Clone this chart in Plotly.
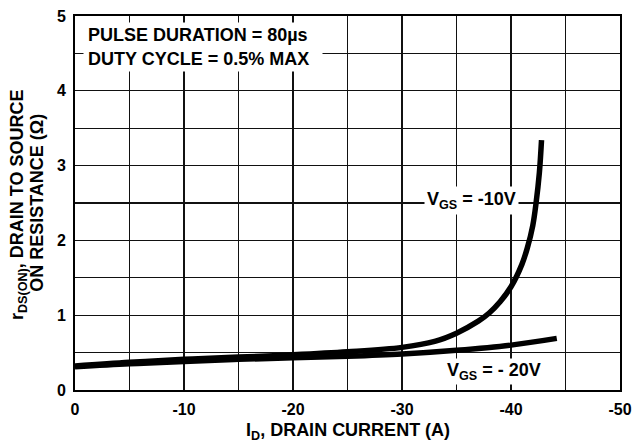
import plotly.graph_objects as go

# -- data --
id_10 = [0, -5, -10, -15, -20, -25, -30, -33, -35, -37, -38, -39, -40, -41, -41.5, -42, -42.3, -42.6, -42.8]
r_10 = [0.32, 0.37, 0.41, 0.44, 0.47, 0.51, 0.57, 0.65, 0.76, 0.92, 1.03, 1.18, 1.38, 1.68, 1.9, 2.2, 2.5, 2.9, 3.34]

id_20 = [0, -5, -10, -15, -20, -25, -30, -35, -40, -44.2]
r_20 = [0.31, 0.35, 0.38, 0.41, 0.43, 0.45, 0.48, 0.53, 0.60, 0.69]

x_ticks = [0, -10, -20, -30, -40, -50]
x_tick_text = ["0", "-10", "-20", "-30", "-40", "-50"]
y_ticks = [0, 1, 2, 3, 4, 5]
y_tick_text = ["0", "1", "2", "3", "4", "5"]

FONT = "Liberation Sans, Arial, sans-serif"
BOLD = dict(family=FONT, weight="bold", color="black")

fig = go.Figure()
fig.add_trace(go.Scatter(x=id_10, y=r_10, mode="lines",
                         line=dict(color="black", width=5.5, shape="spline"),
                         showlegend=False, hoverinfo="skip"))
fig.add_trace(go.Scatter(x=id_20, y=r_20, mode="lines",
                         line=dict(color="black", width=5.5, shape="spline"),
                         showlegend=False, hoverinfo="skip"))

axis_common = dict(
    showgrid=True, gridcolor="#111111", gridwidth=1.3,
    showline=True, linecolor="black", linewidth=2, mirror=True,
    ticks="", zeroline=False, automargin=False,
    ticklabeloverflow="allow",
    tickfont=dict(size=16, **BOLD),
)

fig.update_layout(
    width=634, height=445,
    margin=dict(l=75, r=14, t=16, b=55),
    paper_bgcolor="white", plot_bgcolor="white",
    font=dict(family=FONT, color="black"),
    xaxis=dict(range=[0, -50], tickvals=x_ticks, ticktext=x_tick_text,
               minor=dict(dtick=5, showgrid=True, gridcolor="#111111", gridwidth=1.3),
               ticklabelstandoff=4, **axis_common),
    yaxis=dict(range=[0, 5], tickvals=y_ticks, ticktext=y_tick_text,
               minor=dict(dtick=0.5, showgrid=True, gridcolor="#111111", gridwidth=1.3),
               ticklabelstandoff=4, **axis_common),
    annotations=[
        # axis titles
        dict(xref="paper", yref="paper", x=0.5, y=-0.112, xanchor="center", yanchor="middle",
             text="I<sub>D</sub>, DRAIN CURRENT (A)", showarrow=False,
             font=dict(size=18, **BOLD)),
        dict(xref="paper", yref="paper", x=-0.1025, y=0.495, xanchor="center", yanchor="middle",
             text="r<sub>DS(ON)</sub>, DRAIN TO SOURCE", textangle=-90, showarrow=False,
             borderpad=0, font=dict(size=18, **BOLD)),
        dict(xref="paper", yref="paper", x=-0.07, y=0.5, xanchor="center", yanchor="middle",
             text="ON RESISTANCE (Ω)", textangle=-90, showarrow=False,
             borderpad=0, font=dict(size=18, **BOLD)),
        # notes
        dict(xref="paper", yref="paper", x=0.0147, y=0.984, xanchor="left", yanchor="top",
             text="PULSE DURATION = 80µs<br>DUTY CYCLE = 0.5% MAX", align="left",
             width=230, height=40, valign="middle",
             showarrow=False, bgcolor="white", borderpad=4,
             font=dict(size=18, **BOLD)),
        dict(xref="x", yref="y", x=-36.4, y=2.53, xanchor="center", yanchor="middle",
             text="V<sub>GS</sub> = -10V", showarrow=False, bgcolor="white", borderpad=2,
             font=dict(size=18, **BOLD)),
        dict(xref="x", yref="y", x=-38.4, y=0.25, xanchor="center", yanchor="middle",
             text="V<sub>GS</sub> = - 20V", showarrow=False, bgcolor="white", borderpad=1,
             font=dict(size=18, **BOLD)),
    ],
)

# remove the browser's default 8px body margin so the figure sits at the page origin
fig.write_html("out.html",
               config={"displayModeBar": False, "staticPlot": True},
               post_script="document.body.style.margin='0';document.body.style.overflow='hidden';")
